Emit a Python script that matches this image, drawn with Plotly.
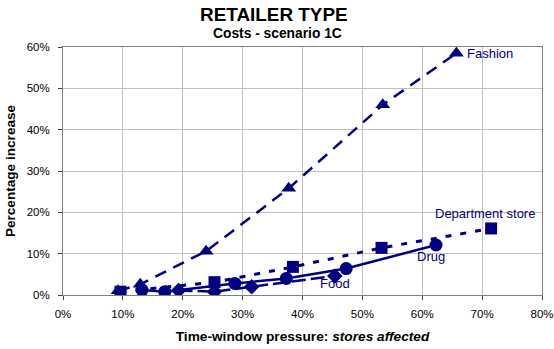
import plotly.graph_objects as go

NAVY = "#000080"

fashion_x = [0.092, 0.129, 0.239, 0.377, 0.534, 0.657]
fashion_y = [0.010, 0.026, 0.106, 0.258, 0.460, 0.585]

dept_x = [0.096, 0.253, 0.384, 0.532, 0.715]
dept_y = [0.008, 0.031, 0.068, 0.114, 0.161]

drug_x = [0.132, 0.170, 0.287, 0.373, 0.473, 0.623]
drug_y = [0.012, 0.008, 0.028, 0.040, 0.064, 0.121]

food_x = [0.193, 0.253, 0.315, 0.454]
food_y = [0.011, 0.008, 0.020, 0.046]

labels = ["Fashion", "Department store", "Drug", "Food"]
label_x = [0.672, 0.704, 0.615, 0.455]
label_y = [0.585, 0.196, 0.092, 0.027]

x_ticks = [0, 0.1, 0.2, 0.3, 0.4, 0.5, 0.6, 0.7, 0.8]
y_ticks = [0, 0.1, 0.2, 0.3, 0.4, 0.5, 0.6]

FONT = "Liberation Sans, Arial"

fig = go.Figure()
fig.add_trace(go.Scatter(x=fashion_x, y=fashion_y, mode="lines+markers", name="Fashion",
                         line=dict(color=NAVY, width=2.5, dash="12px,8px"),
                         marker=dict(symbol="triangle-up", size=13, color=NAVY)))
fig.add_trace(go.Scatter(x=dept_x, y=dept_y, mode="lines+markers", name="Department store",
                         line=dict(color=NAVY, width=3, dash="6px,9px"),
                         marker=dict(symbol="square", size=12, color=NAVY)))
fig.add_trace(go.Scatter(x=drug_x, y=drug_y, mode="lines+markers", name="Drug",
                         line=dict(color=NAVY, width=2.5),
                         marker=dict(symbol="circle", size=13, color=NAVY)))
fig.add_trace(go.Scatter(x=food_x, y=food_y, mode="lines+markers", name="Food",
                         line=dict(color=NAVY, width=2.5, dash="14px,5px"),
                         marker=dict(symbol="diamond", size=12, color=NAVY)))

anchors = ["left", "center", "center", "center"]
for t, ax_, ay_, anc in zip(labels, label_x, label_y, anchors):
    fig.add_annotation(x=ax_, y=ay_, text=t, showarrow=False, xanchor=anc, yanchor="middle",
                       font=dict(family=FONT, size=13, color=NAVY))

TOP, BOTTOM, LEFT, RIGHT = 47, 295, 63, 542

def px_to_paper_y(py):
    return (BOTTOM - py) / (BOTTOM - TOP)

def px_to_paper_x(px):
    return (px - LEFT) / (RIGHT - LEFT)

fig.add_annotation(x=px_to_paper_x(274), y=px_to_paper_y(15), xref="paper", yref="paper",
                   text="<b>RETAILER TYPE</b>", showarrow=False, xanchor="center", yanchor="middle",
                   font=dict(family=FONT, size=18.9, color="black"))
fig.add_annotation(x=px_to_paper_x(277), y=px_to_paper_y(33), xref="paper", yref="paper",
                   text="<b>Costs - scenario 1C</b>", showarrow=False, xanchor="center", yanchor="middle",
                   font=dict(family=FONT, size=13.8, color="black"))

fig.update_layout(
    width=554, height=349,
    margin=dict(l=LEFT, r=554 - RIGHT, t=TOP, b=349 - BOTTOM, autoexpand=False),
    paper_bgcolor="white", plot_bgcolor="white",
    showlegend=False,
    font=dict(family=FONT, size=11.5, color="black"),
    xaxis=dict(range=[0, 0.8], tickvals=x_ticks, tickformat=".0%",
               showgrid=True, gridcolor="#c0c0c0", gridwidth=1,
               showline=True, linecolor="#808080", linewidth=1, mirror=True,
               ticks="outside", ticklen=4, tickcolor="#404040",
               ticklabelstandoff=4, automargin=False,
               zeroline=False,
               title=dict(text="<b>Time-window pressure: <i>stores affected</i></b>",
                          font=dict(size=13.7), standoff=12)),
    yaxis=dict(range=[0, 0.6], tickvals=y_ticks, tickformat=".0%",
               showgrid=True, gridcolor="#c0c0c0", gridwidth=1,
               showline=True, linecolor="#808080", linewidth=1, mirror=True,
               ticks="outside", ticklen=4, tickcolor="#404040",
               ticklabelstandoff=6, automargin=False,
               zeroline=False,
               title=dict(text="<b>Percentage increase</b>", font=dict(size=13.6), standoff=7)),
)

fig.write_html("out.html", config={"displayModeBar": False},
               post_script="document.body.style.margin='0';document.body.style.padding='0';")
